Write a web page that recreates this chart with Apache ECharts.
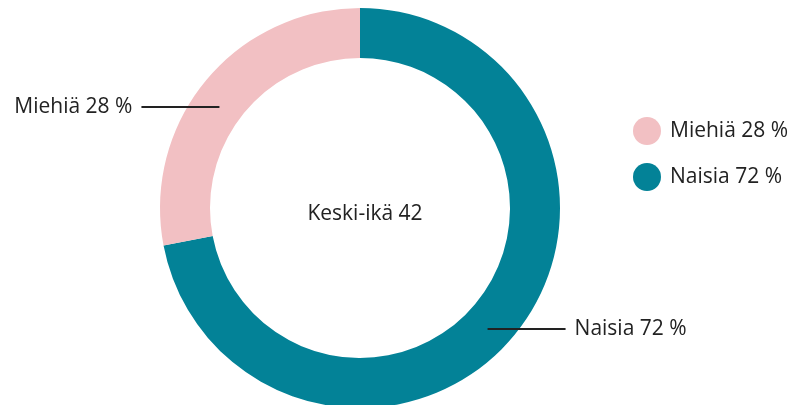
<!DOCTYPE html>
<html>
<head>
<meta charset="utf-8">
<script src="https://cdn.jsdelivr.net/npm/echarts@6/dist/echarts.min.js"></script>
<style>
  html, body { margin: 0; padding: 0; background: #fff; }
  #chart { width: 800px; height: 405px; }
</style>
</head>
<body>
<div id="chart"></div>
<script>
var categories = ['Naisia', 'Miehiä'];
var values = [72, 28];
var colors = ['#038297', '#f2c0c3'];
var centerText = 'Keski-ikä 42';
var legendOrder = ['Miehiä', 'Naisia'];

var font = '"Open Sans", sans-serif';

var data = categories.map(function (c, i) {
  return { name: c, value: values[i], itemStyle: { color: colors[i] } };
});

var dom = document.getElementById('chart');
var myChart = echarts.init(dom, null, { renderer: 'canvas' });

var option = {
  animation: false,
  title: {
    text: centerText,
    left: 360,
    top: 209,
    textAlign: 'center',
    textVerticalAlign: 'middle',
    textStyle: { fontFamily: font, fontSize: 21, fontWeight: 'normal', color: '#222' }
  },
  legend: {
    orient: 'vertical',
    left: 628,
    top: 112,
    icon: 'circle',
    itemWidth: 28,
    itemHeight: 28,
    itemGap: 18,
    data: legendOrder,
    formatter: function (name) {
      return name + ' ' + values[categories.indexOf(name)] + ' %';
    },
    textStyle: { fontFamily: font, fontSize: 21, color: '#222', padding: [0, 0, 0, 4] }
  },
  series: [
    {
      type: 'pie',
      z: 2,
      center: [360, 208],
      radius: [150, 200],
      startAngle: 90,
      clockwise: true,
      label: { show: false },
      labelLine: { show: false },
      data: data
    },
    {
      // transparent helper ring used only to place the outside labels
      type: 'pie',
      z: 5,
      silent: true,
      center: [353.5, 218],
      radius: [0, 174],
      startAngle: 90,
      clockwise: true,
      itemStyle: { color: 'rgba(0,0,0,0)' },
      label: {
        show: true,
        position: 'outside',
        formatter: '{b} {c} %',
        fontFamily: font,
        fontSize: 21,
        color: '#222',
        distanceToLabelLine: 9
      },
      labelLine: {
        show: true,
        length: 0,
        length2: 78,
        lineStyle: { color: '#222', width: 2 }
      },
      data: categories.map(function (c, i) { return { name: c, value: values[i] }; })
    }
  ]
};

myChart.setOption(option);
window.addEventListener('resize', myChart.resize);
</script>
</body>
</html>
